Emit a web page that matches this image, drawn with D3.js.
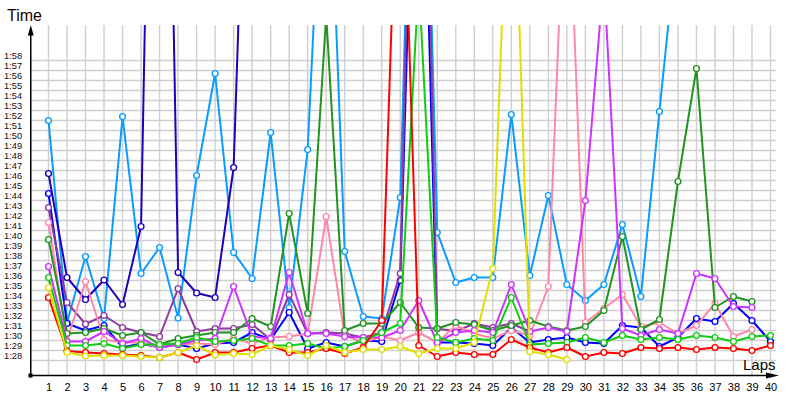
<!DOCTYPE html>
<html><head><meta charset="utf-8">
<script src="https://cdn.jsdelivr.net/npm/d3@7"></script>
<style>body{margin:0;background:#fff} svg{display:block}</style>
</head><body>
<svg id="c" width="800" height="400"></svg>
<script>
const laps = [1,2,3,4,5,6,7,8,9,10,11,12,13,14,15,16,17,18,19,20,21,22,23,24,25,26,27,28,29,30,31,32,33,34,35,36,37,38,39,40];
const yTickLabels = ["1:28","1:29","1:30","1:31","1:32","1:33","1:34","1:35","1:36","1:37","1:38","1:39","1:40","1:41","1:42","1:43","1:44","1:45","1:46","1:47","1:48","1:49","1:50","1:51","1:52","1:53","1:54","1:55","1:56","1:57","1:58"];
const _ = null;
// lap times in seconds
const lightBlue = [112.0,91.8,98.4,92.2,112.4,96.7,99.3,92.25,106.5,116.7,98.8,96.2,110.8,93.3,109.1,148,98.9,92.4,92.2,104.3,170,100.8,95.8,96.3,96.3,112.6,96.5,104.5,95.6,94.0,95.6,101.6,94.4,112.9,131,_,_,_,_,_];
const navy = [106.7,96.3,94.1,96.05,93.6,101.4,200,96.8,94.75,94.3,107.3,163,_,_,_,_,_,_,_,_,_,_,_,_,_,_,_,_,_,_,_,_,_,_,_,_,_,_,_,_];
const blue = [104.7,91.7,91.0,91.5,89.3,89.7,89.3,89.6,89.2,89.7,89.8,90.8,90.1,92.8,89.2,89.8,89.4,90.0,89.9,96.0,160,89.8,89.8,89.7,89.5,91.3,89.8,90.1,90.3,89.8,89.7,91.5,91.3,89.4,90.3,92.2,91.9,93.7,92.0,89.9];
const purple = [103.3,93.8,91.65,92.5,91.3,90.8,90.4,95.2,90.9,91.2,91.2,91.6,90.1,94.6,90.7,90.8,90.7,90.3,90.8,96.7,175,91.2,90.9,91.7,91.3,91.7,90.9,_,_,_,_,_,_,_,_,_,_,_,_,_];
const pink = [101.8,90.0,95.9,90.1,89.8,89.8,89.3,89.6,89.7,89.6,90.2,89.7,90.3,90.4,90.7,102.4,90.5,89.8,90.4,90.0,90.8,89.8,91.5,90.7,90.2,91.0,90.5,95.4,141,91.8,93.2,94.6,91.4,91.8,90.7,91.5,93.7,90.4,91.1,_];
const darkGreen = [100.1,90.7,90.8,91.2,90.5,90.8,89.6,90.2,90.5,90.8,90.8,92.2,91.4,102.7,92.7,122.5,91.0,91.7,91.7,93.8,91.3,91.2,91.8,91.6,91.0,91.5,92.0,91.4,91.0,91.4,93.0,100.4,91.1,92.1,105.9,117.2,93.3,94.4,93.9,_];
const violet = [97.4,89.9,89.9,90.9,89.7,90.2,89.3,89.6,90.0,90.2,95.4,90.4,90.2,96.8,90.7,90.7,90.4,90.3,90.3,91.0,94.0,89.8,90.8,91.0,90.8,95.6,90.9,91.3,90.9,104.0,126.4,91.2,90.5,91.1,90.7,96.7,96.2,93.4,93.3,_];
const green = [96.3,89.5,89.5,89.7,89.2,89.6,89.6,89.7,90.3,89.9,90.0,90.2,89.5,89.5,89.7,89.2,89.4,90.0,90.8,91.7,126,90.3,89.8,90.2,90.0,94.3,89.6,89.7,89.8,90.3,89.8,90.5,90.1,90.3,90.1,90.5,90.3,89.9,90.4,90.5];
const red = [94.3,88.95,88.8,88.7,88.6,88.5,88.3,88.8,88.1,88.8,88.8,89.2,89.5,88.8,88.8,89.2,88.7,89.3,92.0,148,89.5,88.4,88.8,88.6,88.6,90.1,89.3,88.8,89.3,88.4,88.8,88.7,89.3,89.2,89.3,89.1,89.3,89.2,89.0,89.5];
const yellow = [95.3,88.8,88.45,88.5,88.5,88.4,88.3,88.8,89.5,88.55,88.7,88.6,89.5,89.1,88.5,89.5,88.8,89.1,89.1,89.4,88.7,89.2,89.2,89.8,97.2,147,88.9,88.6,88.1,_,_,_,_,_,_,_,_,_,_,_];

const series = [
  {values: lightBlue, color: "#0a9bff"},
  {values: navy, color: "#2000b8"},
  {values: blue, color: "#0000ff"},
  {values: purple, color: "#8e3a9e"},
  {values: pink, color: "#ff88a8"},
  {values: darkGreen, color: "#229322"},
  {values: violet, color: "#cc33ff"},
  {values: green, color: "#11cc11"},
  {values: red, color: "#ff0000"},
  {values: yellow, color: "#e0e000"}
];

const parseT = s => { const p = s.split(":"); return +p[0]*60 + +p[1]; };
const yTickValues = yTickLabels.map(parseT);

const svg = d3.select("#c");
const x = d3.scaleLinear().domain([1,40]).range([48.5,770.5]);
const y = d3.scaleLinear().domain([88,118]).range([360.5,60.5]);
const pLeft = 31, pRight = 776, pTop = 25, pBottom = 375.5;

// grid
const grid = svg.append("g").attr("stroke","#cfcfcf").attr("stroke-width",1.4);
grid.selectAll("line.v").data(laps).join("line").attr("class","v")
  .attr("x1",d=>x(d)).attr("x2",d=>x(d)).attr("y1",pTop).attr("y2",pBottom);
grid.selectAll("line.h").data(yTickValues).join("line").attr("class","h")
  .attr("x1",pLeft).attr("x2",pRight).attr("y1",d=>y(d)).attr("y2",d=>y(d));

// y tick labels
const fmt = d => yTickLabels[yTickValues.indexOf(d)];
const ya = svg.append("g").attr("transform","translate(4,0)")
  .call(d3.axisRight(y).tickValues(yTickValues).tickFormat(fmt).tickSize(0).tickPadding(0));
ya.select(".domain").remove();
ya.selectAll("text").attr("dy",null).attr("y",-1.8).attr("x",0)
  .attr("font-family","Liberation Sans, Arial, sans-serif").attr("font-size","9.3px").attr("fill","#1a0a0a");

// x tick labels
const xa = svg.append("g").attr("transform",`translate(0,${pBottom})`)
  .call(d3.axisBottom(x).tickValues(laps).tickFormat(d3.format("d")).tickSize(0));
xa.select(".domain").remove();
xa.selectAll("text").attr("dy",null).attr("y",15.5)
  .attr("font-family","Liberation Sans, Arial, sans-serif").attr("font-size","11px").attr("fill","#000");

// clip
svg.append("clipPath").attr("id","clip").append("rect")
  .attr("x",pLeft).attr("y",pTop).attr("width",pRight-pLeft).attr("height",pBottom-pTop);

const plot = svg.append("g").attr("clip-path","url(#clip)");
const line = d3.line().defined(d=>d!=null).x((d,i)=>x(laps[i])).y(d=>y(d));
series.forEach(s=>{
  const g = plot.append("g");
  g.append("path").datum(s.values).attr("d",line).attr("fill","none")
    .attr("stroke",s.color).attr("stroke-width",2).attr("stroke-linejoin","round");
  g.selectAll("circle").data(s.values.map((v,i)=>({v,i})).filter(p=>p.v!=null)).join("circle")
    .attr("cx",p=>x(laps[p.i])).attr("cy",p=>y(p.v)).attr("r",2.9)
    .attr("fill","#fff").attr("stroke",s.color).attr("stroke-width",1.4);
});

// axes lines & arrows
svg.append("line").attr("x1",30.75).attr("x2",30.75).attr("y1",pBottom).attr("y2",34).attr("stroke","#000").attr("stroke-width",1.5);
svg.append("path").attr("d","M30.75,25 L27.8,35.5 L33.7,35.5 Z").attr("fill","#000");
svg.append("line").attr("x1",30).attr("x2",768).attr("y1",pBottom).attr("y2",pBottom).attr("stroke","#000").attr("stroke-width",1.5);
svg.append("path").attr("d",`M779,${pBottom} L766,${pBottom-3} L766,${pBottom+3} Z`).attr("fill","#000");
svg.append("rect").attr("x",28.5).attr("y",373.5).attr("width",4).attr("height",4).attr("fill","#000");

svg.append("text").attr("x",7).attr("y",21).text("Time")
  .attr("font-family","Liberation Sans, Arial, sans-serif").attr("font-size","16px").attr("fill","#200000");
svg.append("text").attr("x",743).attr("y",370).text("Laps")
  .attr("font-family","Liberation Sans, Arial, sans-serif").attr("font-size","15px").attr("fill","#000");
</script>
</body></html>
